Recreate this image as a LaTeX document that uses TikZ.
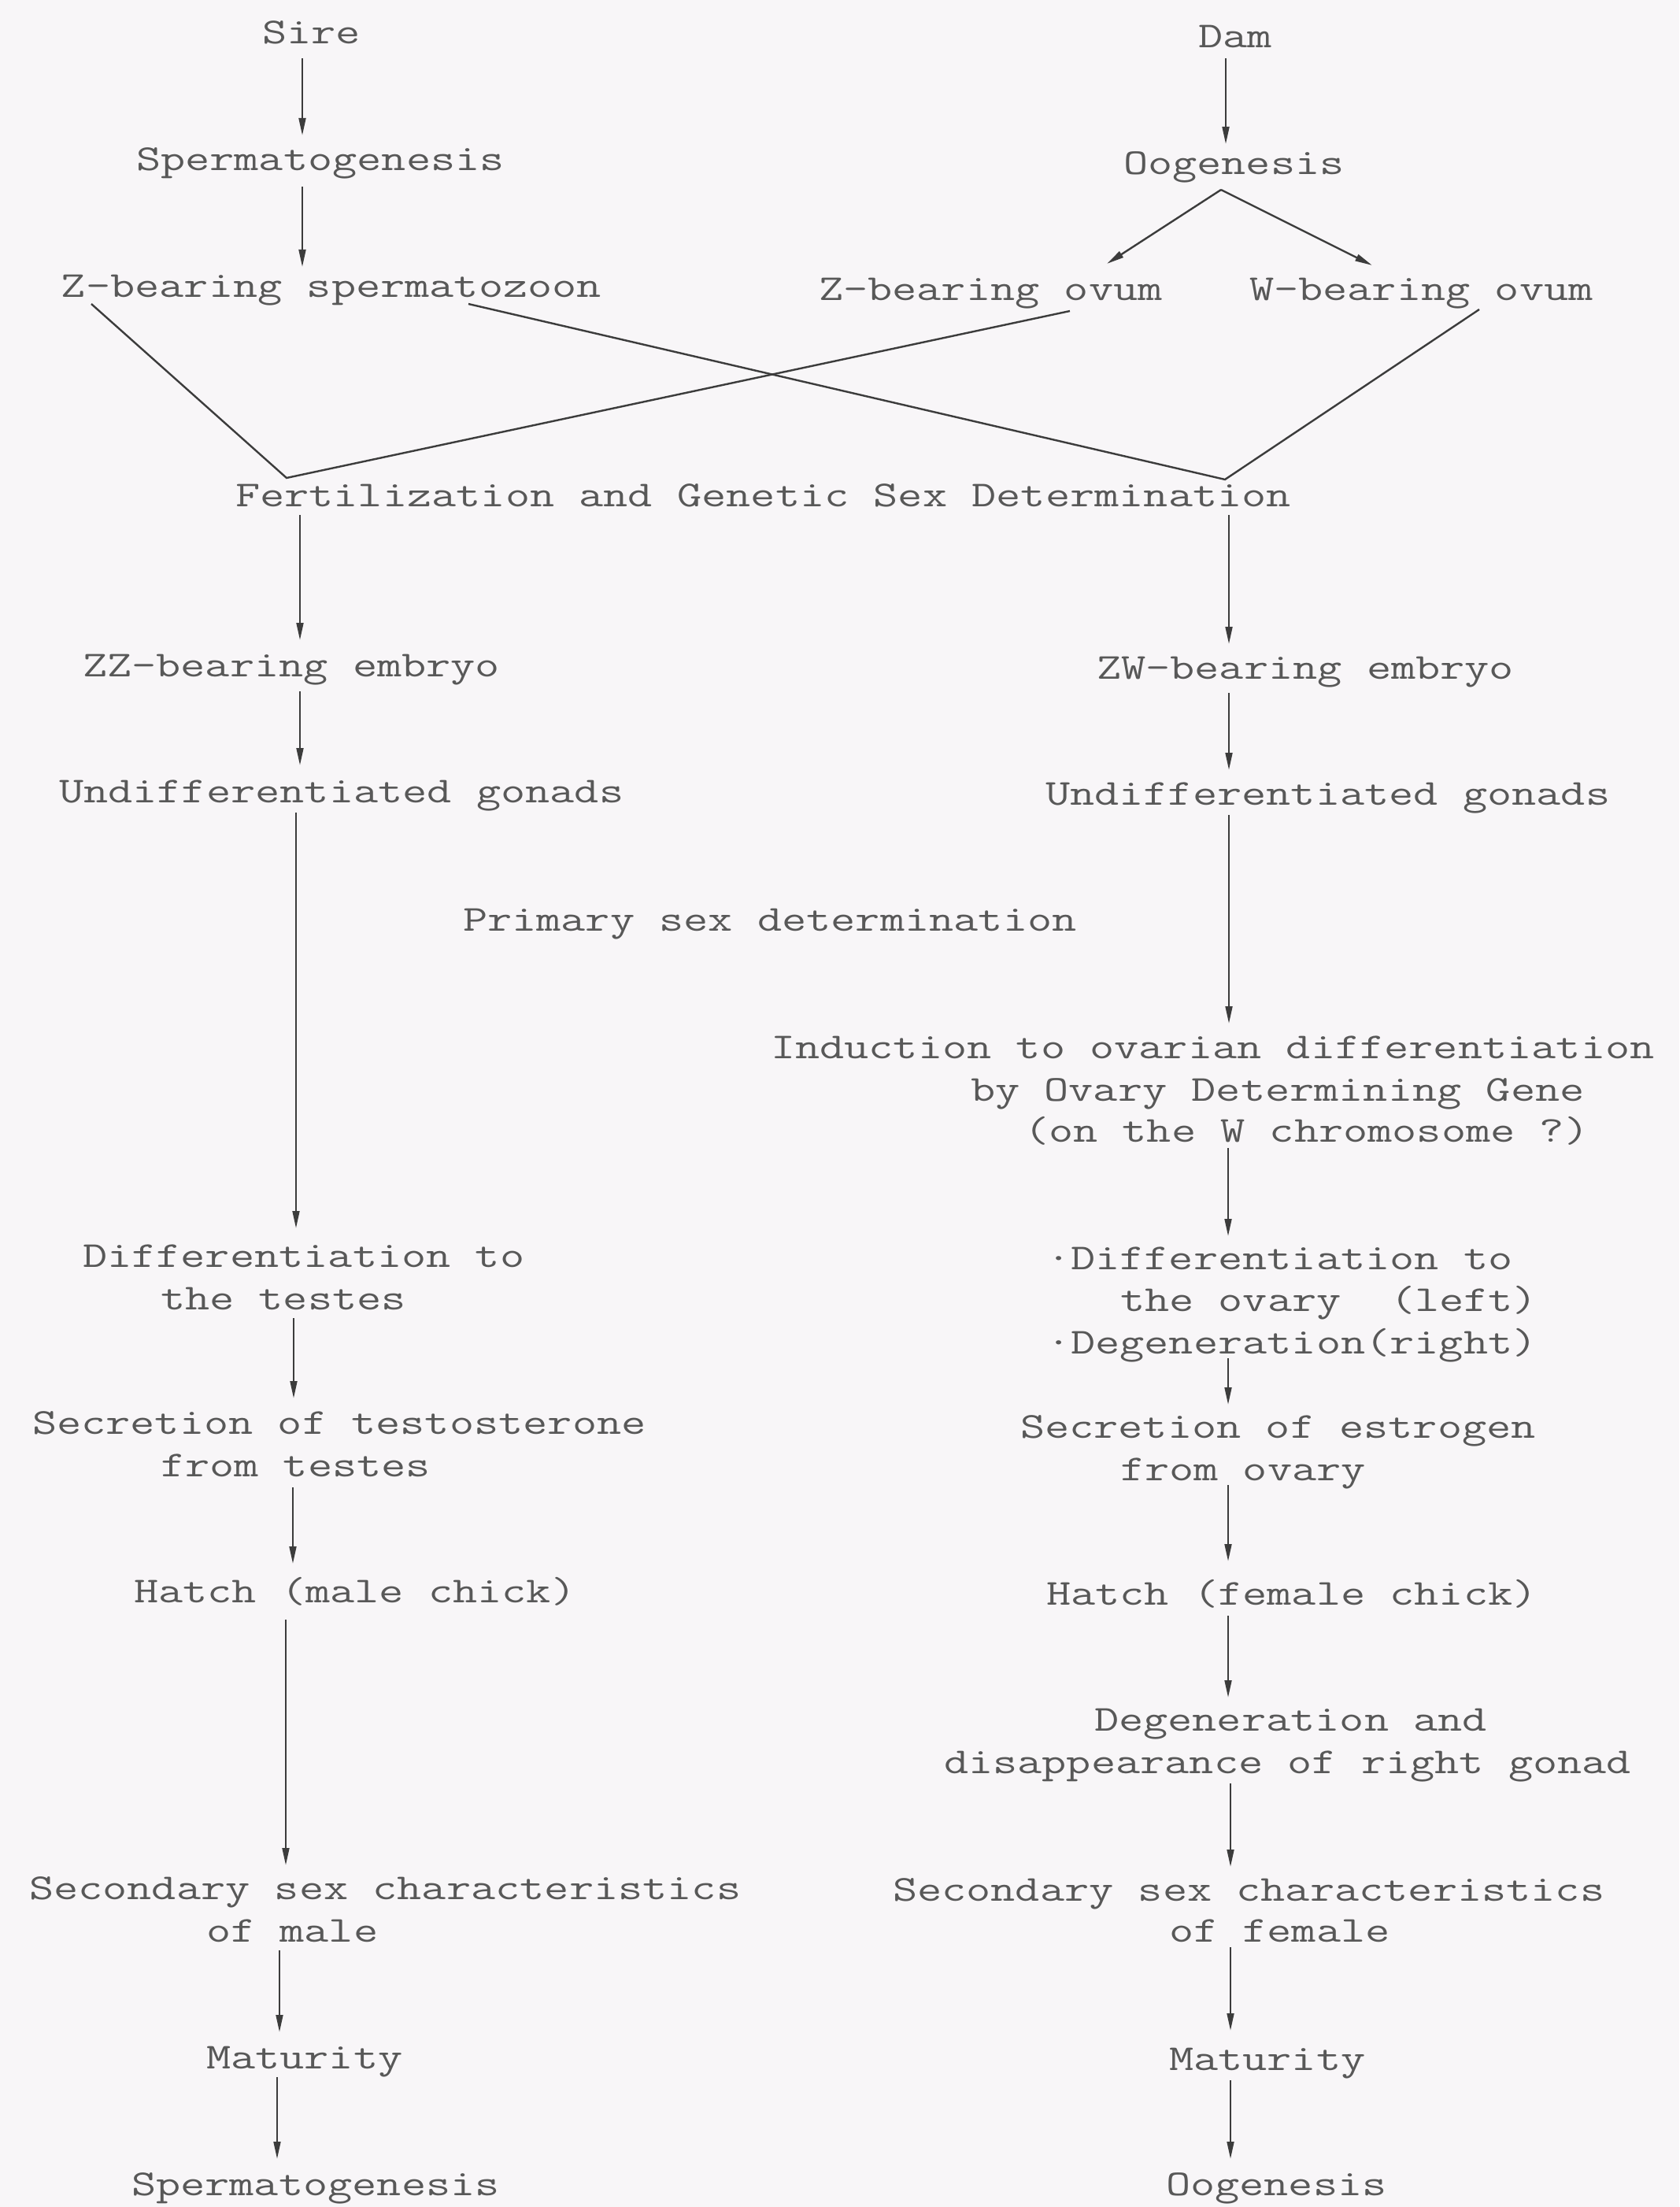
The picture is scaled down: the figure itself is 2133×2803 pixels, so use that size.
\documentclass[tikz,border=0pt]{standalone}
\usepackage{graphicx}
\usetikzlibrary{arrows.meta,calc}
\definecolor{bgc}{HTML}{F8F6F8}
\definecolor{txc}{HTML}{585858}
\definecolor{lnc}{HTML}{3C3C3C}
\newcommand\vconn[5]{\draw[arr] ($(#1.base -| #3,0)+(0,#4)$) -- ($(#2.base -| #3,0)+(0,#5)$);}
\newcommand\tx[1]{\scalebox{1.305}[1]{#1}}
\begin{document}
\begin{tikzpicture}[x=0.25pt,y=-0.25pt,
  lbl/.style={anchor=base west,inner sep=0pt,outer sep=0pt,text=txc,font=\ttfamily\fontsize{11.6}{13}\selectfont},
  arr/.style={draw=lnc,line width=0.6pt,-{Triangle[length=5.5pt,width=2.2pt]}},
  ln/.style={draw=lnc,line width=0.6pt}]
\fill[bgc] (0,0) rectangle (2133,2803);
\useasboundingbox (0,0) rectangle (2133,2803);
% texts
\node[lbl] (sire) at (333,56) {\tx{Sire}};
\node[lbl] (dam) at (1522,61) {\tx{Dam}};
\node[lbl] (spermT) at (173,217) {\tx{Spermatogenesis}};
\node[lbl] (oogT) at (1427,222) {\tx{Oogenesis}};
\node[lbl] (zsperm) at (78,378) {\tx{Z-bearing spermatozoon}};
\node[lbl] (zovum) at (1040,382) {\tx{Z-bearing ovum}};
\node[lbl] (wovum) at (1587,382) {\tx{W-bearing ovum}};
\node[lbl] (fert) at (299,643) {\tx{Fertilization and Genetic Sex Determination}};
\node[lbl] (zz) at (105,859) {\tx{ZZ-bearing embryo}};
\node[lbl] (zw) at (1393,862) {\tx{ZW-bearing embryo}};
\node[lbl] (undL) at (75,1019) {\tx{Undifferentiated gonads}};
\node[lbl] (undR) at (1328,1022) {\tx{Undifferentiated gonads}};
\node[lbl] (prim) at (588,1182) {\tx{Primary sex determination}};
\node[lbl] (indA) at (979,1344) {\tx{Induction to ovarian differentiation}};
\node[lbl] (indB) at (1233,1398) {\tx{by Ovary Determining Gene}};
\node[lbl] (indC) at (1301,1450) {\tx{(on the W chromosome ?)}};
\node[lbl] (dtA) at (105,1609) {\tx{Differentiation to}};
\node[lbl] (dtB) at (204,1663) {\tx{the testes}};
\node[lbl] (doA) at (1329,1612) {\tx{·Differentiation to}};
\node[lbl] (doB) at (1423,1665) {\tx{the ovary\ \ (left)}};
\node[lbl] (doC) at (1329,1719) {\tx{·Degeneration(right)}};
\node[lbl] (stA) at (41,1821) {\tx{Secretion of testosterone}};
\node[lbl] (stB) at (204,1875) {\tx{from testes}};
\node[lbl] (seA) at (1296,1826) {\tx{Secretion of estrogen}};
\node[lbl] (seB) at (1423,1880) {\tx{from ovary}};
\node[lbl] (hm) at (170,2035) {\tx{Hatch (male chick)}};
\node[lbl] (hf) at (1329,2038) {\tx{Hatch (female chick)}};
\node[lbl] (dgA) at (1390,2198) {\tx{Degeneration and}};
\node[lbl] (dgB) at (1199,2252) {\tx{disappearance of right gonad}};
\node[lbl] (smA) at (37,2412) {\tx{Secondary sex characteristics}};
\node[lbl] (smB) at (262,2466) {\tx{of male}};
\node[lbl] (sfA) at (1134,2414) {\tx{Secondary sex characteristics}};
\node[lbl] (sfB) at (1485,2466) {\tx{of female}};
\node[lbl] (mm) at (262,2627) {\tx{Maturity}};
\node[lbl] (mf) at (1485,2629) {\tx{Maturity}};
\node[lbl] (spB) at (167,2788) {\tx{Spermatogenesis}};
\node[lbl] (ooB) at (1481,2788) {\tx{Oogenesis}};
% left column arrows
\vconn{sire}{spermT}{384}{18}{-45}
\vconn{spermT}{zsperm}{384}{20}{-39}
\vconn{fert}{zz}{381}{11}{-46}
\vconn{zz}{undL}{381}{19}{-47}
\vconn{undL}{dtA}{376}{13}{-49}
\vconn{dtB}{stA}{373}{11}{-45}
\vconn{stB}{hm}{372}{14}{-49}
\vconn{hm}{smA}{363}{22}{-43}
\vconn{smB}{mm}{355}{11}{-46}
\vconn{mm}{spB}{352}{11}{-46}
% right column arrows
\vconn{dam}{oogT}{1557}{13}{-39}
\vconn{fert}{zw}{1561}{11}{-44}
\vconn{zw}{undR}{1561}{18}{-44}
\vconn{undR}{indA}{1561}{13}{-44}
\vconn{indC}{doA}{1560}{8}{-42}
\vconn{doC}{seA}{1560}{6}{-42}
\vconn{seB}{hf}{1560}{6}{-55}
\vconn{hf}{dgA}{1560}{14}{-42}
\vconn{dgB}{sfA}{1563}{13}{-43}
\vconn{sfB}{mf}{1563}{7}{-50}
\vconn{mf}{ooB}{1563}{13}{-46}
% oogenesis branches
\coordinate (oapex) at ($(oogT.base -| 1551,0)+(0,19)$);
\draw[arr] (oapex) -- ($(zovum.base -| 1406,0)+(0,-47)$);
\draw[arr] (oapex) -- ($(wovum.base -| 1743,0)+(0,-45)$);
% crossing lines
\coordinate (vL) at ($(fert.base -| 364,0)+(0,-36)$);
\coordinate (vR) at ($(fert.base -| 1556,0)+(0,-34)$);
\draw[ln] ($(zsperm.base -| 116,0)+(0,8)$) -- (vL) -- ($(zovum.base -| 1359,0)+(0,13)$);
\draw[ln] ($(zsperm.base -| 595,0)+(0,8)$) -- (vR) -- ($(wovum.base -| 1879,0)+(0,11)$);
\end{tikzpicture}
\end{document}
